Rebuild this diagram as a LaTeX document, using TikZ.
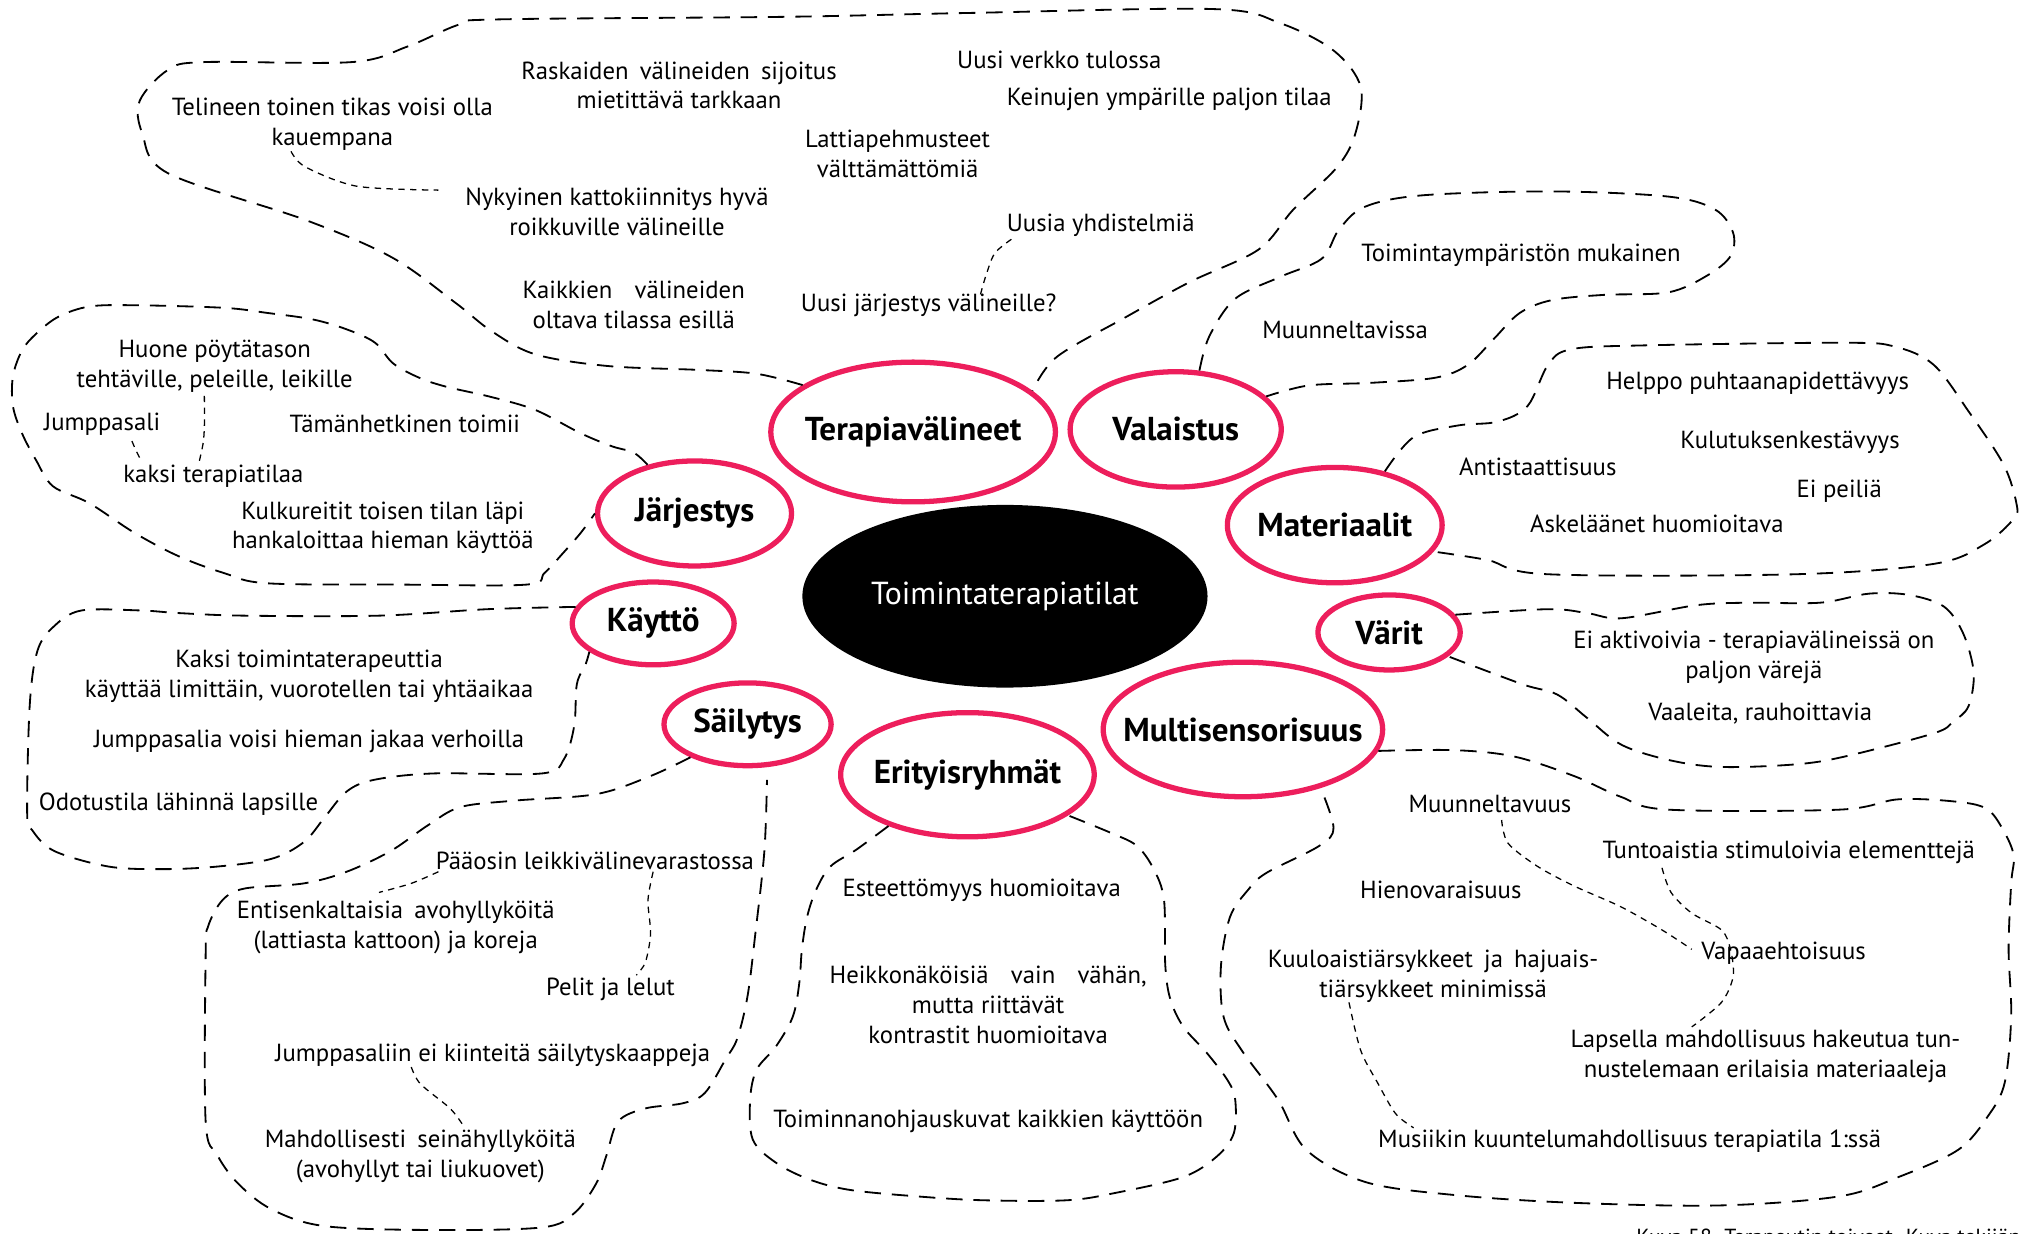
\documentclass[tikz,border=0pt]{standalone}
\usepackage{fontspec}
\setmainfont{PT Sans}
\usetikzlibrary{shapes.geometric}
\definecolor{rosered}{RGB}{237,30,92}
\newcommand{\jgap}{\hspace{0.45em}}

\begin{document}
\begin{tikzpicture}[x=0.025cm, y=-0.025cm,
  topic/.style={ellipse, draw=rosered, line width=2.9pt, fill=white, inner sep=0pt},
  topictext/.style={font=\bfseries\fontsize{18.2}{21}\selectfont, inner sep=0pt},
  hub/.style={ellipse, fill=black, inner sep=0pt},
  note/.style={align=center, font=\fontsize{13.6}{16.4}\selectfont, inner sep=1pt},
  blob/.style={line width=1pt, dash pattern=on 9pt off 6pt},
  link/.style={line width=0.7pt, dash pattern=on 3.5pt off 3pt}]
\useasboundingbox (0,0) rectangle (1568,954);

\node[hub, minimum width=7.83cm, minimum height=3.53cm,
  label={[inner sep=0pt, font=\fontsize{17.5}{20}\selectfont, text=white]center:Toimintaterapiatilat}] (hub) at (777,461) {};
\node[topic, minimum width=5.5cm, minimum height=2.7cm, label={[topictext]center:Terapiavälineet}] (tera) at (706,334) {};
\node[topic, minimum width=4.08cm, minimum height=2.23cm, label={[topictext]center:Valaistus}] (vala) at (909,332) {};
\node[topic, minimum width=4.15cm, minimum height=2.23cm, label={[topictext]center:Materiaalit}] (mate) at (1032,406) {};
\node[topic, minimum width=2.75cm, minimum height=1.45cm, label={[topictext]center:Värit}] (vari) at (1074,489) {};
\node[topic, minimum width=5.4cm, minimum height=2.6cm, label={[topictext]center:Multisensorisuus}] (mult) at (961,564) {};
\node[topic, minimum width=4.9cm, minimum height=2.4cm, label={[topictext]center:Erityisryhmät}] (erit) at (748,599) {};
\node[topic, minimum width=3.23cm, minimum height=1.6cm, label={[topictext]center:Säilytys}] (sail) at (578,560) {};
\node[topic, minimum width=3.13cm, minimum height=1.6cm, label={[topictext]center:Käyttö}] (kayt) at (505,482) {};
\node[topic, minimum width=3.75cm, minimum height=2.03cm, label={[topictext]center:Järjestys}] (jarj) at (537,397) {};

\draw[blob] plot[smooth, tension=0.55] coordinates {(tera.157) (585,289) (540,286) (470,283) (414,274) (380,256) (352,234) (303,199) (236,170) (130,134) (110,103) (108,78) (130,54) (158,48) (272,48) (315,36) (355,19) (385,15) (607,13) (750,10) (938,7) (990,18) (1031,39) (1052,67) (1048,103) (1034,129) (1000,162) (973,193) (920,218) (869,246) (817,276) (tera.19)};
\draw[blob] plot[smooth, tension=0.55] coordinates {(vala.68) (935,260) (955,231) (990,214) (1022,200) (1035,178) (1055,160) (1100,151) (1200,148) (1290,152) (1326,162) (1340,180) (1338,198) (1320,213) (1290,226) (1240,228) (1200,232) (1175,242) (1155,262) (1135,282) (1110,292) (1060,296) (1012,298) (vala.20)};
\draw[blob] plot[smooth, tension=0.55] coordinates {(mate.47) (1093,338) (1127,329) (1158,326) (1181,314) (1197,282) (1215,270) (1273,267) (1426,265) (1465,268) (1495,282) (1522,318) (1549,359) (1559,389) (1557,401) (1534,421) (1495,436) (1388,444) (1197,444) (1150,433) (mate.-15)};
\draw[blob] plot[smooth, tension=0.55] coordinates {(vari.15) (1197,471) (1227,474) (1254,478) (1311,468) (1350,466) (1407,466) (1445,459) (1476,460) (1503,469) (1518,490) (1526,520) (1522,546) (1510,558) (1495,567) (1426,585) (1388,591) (1331,593) (1292,588) (1254,576) (1227,555) (1204,537) (1177,529) (vari.-22)};
\draw[blob] plot[smooth, tension=0.55] coordinates {(mult.-9) (1125,580) (1171,585) (1217,600) (1253,616) (1290,626) (1422,626) (1468,618) (1514,620) (1537,626) (1550,644) (1557,662) (1555,683) (1553,734) (1555,786) (1550,837) (1537,863) (1514,889) (1468,910) (1422,925) (1330,932) (1217,930) (1125,924) (1056,914) (1010,889) (988,850) (960,812) (946,786) (944,747) (951,709) (965,688) (979,675) (1020,654) (1031,640) (mult.-37)};
\draw[blob] plot[smooth, tension=0.55] coordinates {(erit.-147) (662,657) (642,670) (631,688) (624,709) (620,734) (618,760) (613,786) (600,809) (585,827) (580,850) (582,881) (600,899) (626,912) (657,920) (709,925) (760,928) (825,928) (864,922) (915,910) (941,894) (954,876) (955,850) (949,835) (933,814) (915,794) (905,773) (901,747) (900,696) (892,672) (879,654) (859,644) (erit.-22)};
\draw[blob] plot[smooth, tension=0.55] coordinates {(sail.-150) (503,600) (461,614) (398,619) (356,624) (331,638) (302,658) (268,674) (235,683) (189,687) (172,696) (161,716) (159,738) (159,867) (168,893) (184,915) (210,935) (251,948) (335,951) (419,949) (444,938) (461,915) (469,893) (478,867) (499,857) (528,853) (545,845) (561,819) (570,803) (578,770) (584,722) (591,658) (593,603)};
\draw[blob] plot[smooth, tension=0.55] coordinates {(kayt.168) (377,471) (293,476) (189,476) (138,474) (109,472) (63,472) (42,484) (29,503) (23,545) (21,629) (25,642) (42,658) (84,670) (126,672) (168,670) (210,664) (235,651) (251,632) (268,612) (289,603) (335,598) (419,598) (436,587) (444,561) (446,529) (453,513) (kayt.-156)};
\draw[blob] plot[smooth, tension=0.55] coordinates {(jarj.134) (490,350) (473,345) (449,335) (414,317) (380,307) (345,299) (324,292) (304,281) (290,265) (269,255) (242,247) (207,242) (173,238) (104,236) (69,237) (45,245) (28,258) (17,271) (10,291) (10,314) (17,335) (28,356) (41,376) (69,389) (104,412) (138,430) (173,443) (207,451) (311,452) (407,452) (421,443) (435,428) (449,412) (jarj.180)};

\node[note] (telin) at (257,96) {Telineen toinen tikas voisi olla\\kauempana};
\node[note] (raskas) at (525,66) {Raskaiden\jgap välineiden\jgap sijoitus\\mietittävä tarkkaan};
\node[note] (verkko) at (819,46) {Uusi verkko tulossa};
\node[note] (keinu) at (904,77) {Keinujen ympärille paljon tilaa};
\node[note] (lattia) at (694,119) {Lattiapehmusteet\\välttämättömiä};
\node[note] (katto) at (477,164) {Nykyinen kattokiinnitys hyvä\\roikkuville välineille};
\node[note] (yhdis) at (851,174) {Uusia yhdistelmiä};
\node[note] (esilla) at (490,236) {Kaikkien\jgap\jgap välineiden\\oltava tilassa esillä};
\node[note] (uusijar) at (718,236) {Uusi järjestys välineille?};

\node[note] (ymparisto) at (1176,197) {Toimintaympäristön mukainen};
\node[note] (muunvis) at (1040,255) {Muunneltavissa};

\node[note] (helppo) at (1359,296) {Helppo puhtaanapidettävyys};
\node[note] (kulutus) at (1384,342) {Kulutuksenkestävyys};
\node[note] (antist) at (1189,361) {Antistaattisuus};
\node[note] (peili) at (1422,380) {Ei peiliä};
\node[note] (askel) at (1281,405) {Askeläänet huomioitava};

\node[note] (aktiv) at (1356,508) {Ei aktivoivia - terapiavälineissä on\\paljon värejä};
\node[note] (vaalea) at (1361,552) {Vaaleita, rauhoittavia};

\node[note] (muunvuus) at (1152,622) {Muunneltavuus};
\node[note] (tunto) at (1383,659) {Tuntoaistia stimuloivia elementtejä};
\node[note] (hieno) at (1114,688) {Hienovaraisuus};
\node[note] (vapaa) at (1379,737) {Vapaaehtoisuus};
\node[note] (kuulo) at (1108,755) {Kuuloaistiärsykkeet\jgap ja\jgap hajuais-\\tiärsykkeet minimissä};
\node[note] (lapsi) at (1365,817) {Lapsella mahdollisuus hakeutua tun-\\nustelemaan erilaisia materiaaleja};
\node[note] (musiikki) at (1260,882) {Musiikin kuuntelumahdollisuus terapiatila 1:ssä};

\node[note] (esteet) at (759,688) {Esteettömyys huomioitava};
\node[note] (heikko) at (764,777) {Heikkonäköisiä\jgap\jgap vain\jgap\jgap vähän,\\mutta riittävät\\kontrastit huomioitava};
\node[note] (ohjaus) at (764,867) {Toiminnanohjauskuvat kaikkien käyttöön};

\node[note] (paaosin) at (460,666) {Pääosin leikkivälinevarastossa};
\node[note] (entinen) at (306,717) {Entisenkaltaisia\jgap avohyllyköitä\\(lattiasta kattoon) ja koreja};
\node[note] (pelit) at (472,765) {Pelit ja lelut};
\node[note] (kaappi) at (381,816) {Jumppasaliin ei kiinteitä säilytyskaappeja};
\node[note] (seina) at (325,894) {Mahdollisesti\jgap seinähyllyköitä\\(avohyllyt tai liukuovet)};

\node[note] (kaksi) at (239,523) {Kaksi toimintaterapeuttia\\käyttää limittäin, vuorotellen tai yhtäaikaa};
\node[note] (verho) at (239,573) {Jumppasalia voisi hieman jakaa verhoilla};
\node[note] (odotus) at (138,622) {Odotustila lähinnä lapsille};

\node[note] (huone) at (166,283) {Huone pöytätason\\tehtäville, peleille, leikille};
\node[note] (jumppa) at (79,328) {Jumppasali};
\node[note] (nyt) at (313,328) {Tämänhetkinen toimii};
\node[note] (kaksitila) at (165,368) {kaksi terapiatilaa};
\node[note] (kulku) at (296,408) {Kulkureitit toisen tilan läpi\\hankaloittaa hieman käyttöä};

\draw[link] plot[smooth] coordinates {(225,117) (236,129) (276,144) (339,147)};
\draw[link] plot[smooth] coordinates {(782,185) (769,196) (762,214) (758,228)};
\draw[link] plot[smooth] coordinates {(158,306) (158,330) (157,343) (154,357)};
\draw[link] plot[smooth] coordinates {(102,341) (105,348) (109,356)};
\draw[link] plot[smooth] coordinates {(339,674) (318,683) (293,690)};
\draw[link] plot[smooth] coordinates {(505,674) (501,696) (503,722) (499,744) (492,754)};
\draw[link] plot[smooth] coordinates {(318,825) (325,838) (348,857) (358,870)};
\draw[link] plot[smooth] coordinates {(1161,634) (1166,652) (1189,670) (1217,685) (1253,701) (1285,719) (1308,734)};
\draw[link] plot[smooth] coordinates {(1285,671) (1292,690) (1308,706) (1331,719) (1338,734) (1340,755) (1331,775) (1308,794)};
\draw[link] plot[smooth] coordinates {(1043,775) (1052,812) (1065,837) (1079,861) (1093,872)};

\node[anchor=north west, inner sep=0pt, font=\fontsize{12}{14}\selectfont] (kuva) at (1265,950) {Kuva 58. Terapeutin toiveet. Kuva tekijän};
\end{tikzpicture}
\end{document}
